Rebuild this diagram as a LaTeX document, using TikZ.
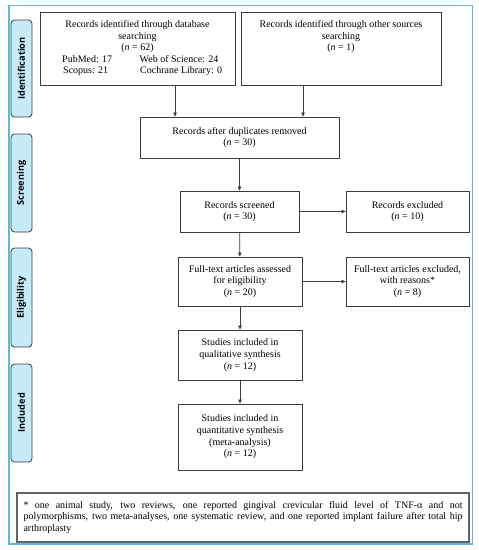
\documentclass[tikz,border=0pt]{standalone}
\usepackage{fontspec}
\setmainfont{Liberation Serif}
\newfontfamily\labfont{Open Sans}
\usetikzlibrary{arrows.meta}
\definecolor{frameblue}{HTML}{5AB8E6}
\definecolor{labfill}{HTML}{C6EBFB}
\definecolor{boxline}{HTML}{3C3C3C}
\tikzset{
  txt/.style={font=\fontsize{10}{11.7}\selectfont},
  fbox/.style={draw=boxline, line width=0.8pt, fill=white, inner sep=0pt, align=center, txt},
  sidelab/.style={draw=boxline, line width=0.8pt, fill=labfill, rounded corners=3.5pt},
  labtext/.style={rotate=90, font=\labfont\bfseries\fontsize{9.2}{10}\selectfont},
  arr/.style={draw=boxline, line width=0.7pt, -{Triangle[length=4pt,width=3.5pt]}},
}
\begin{document}
\begin{tikzpicture}[x=1pt,y=-1pt]
\useasboundingbox (0,0) rectangle (479,550);
\fill[white] (0,0) rectangle (479,550);
\draw[frameblue, line width=1.8pt] (9,5.5) rectangle (472.5,544);
% side labels
\draw[sidelab] (11,20) rectangle (32,117);
\node[labtext] (lid) at (21.5,68.5) {Identification};
\draw[sidelab] (11,134) rectangle (32,232);
\node[labtext] (lsc) at (21.5,183) {Screening};
\draw[sidelab] (11,248) rectangle (32,347);
\node[labtext] (lel) at (21.5,297.5) {Eligibility};
\draw[sidelab] (11,364) rectangle (32,462);
\node[labtext] (lin) at (21.5,413) {Included};
% boxes
\node[fbox, minimum width=195pt, minimum height=73pt, anchor=north west] (db) at (40,12) {};
\node[txt, align=center, anchor=north] (dbt) at (137.5,17)
  {Records identified through database\\searching\\(\textit{n} = 62)};
\node[txt, anchor=west, inner sep=0pt] (pm) at (62,59.5) {PubMed: 17};
\node[txt, anchor=west, inner sep=0pt] (sc) at (63,71) {Scopus: 21};
\node[txt, anchor=west, inner sep=0pt] (ws) at (139.5,59.5) {Web of Science: 24};
\node[txt, anchor=west, inner sep=0pt] (cl) at (140,71) {Cochrane Library: 0};
\node[fbox, minimum width=200pt, minimum height=73pt, anchor=north west] (ot) at (241,12) {};
\node[txt, align=center, anchor=north] (ott) at (341,17)
  {Records identified through other sources\\searching\\(\textit{n} = 1)};
\node[fbox, minimum width=199pt, minimum height=41pt] (dup) at (239.5,137.5)
  {Records after duplicates removed\\(\textit{n} = 30)};
\node[fbox, minimum width=119pt, minimum height=41pt] (scr) at (239.5,211.5)
  {Records screened\\(\textit{n} = 30)};
\node[fbox, minimum width=123pt, minimum height=41pt] (exc) at (407.5,211.5)
  {Records excluded\\(\textit{n} = 10)};
\node[fbox, minimum width=124pt, minimum height=49pt] (ft) at (240,281.5)
  {Full-text articles assessed\\for eligibility\\(\textit{n} = 20)};
\node[fbox, minimum width=123pt, minimum height=49pt] (fte) at (407.5,281.5)
  {Full-text articles excluded,\\with reasons*\\(\textit{n} = 8)};
\node[fbox, minimum width=124pt, minimum height=50pt] (qual) at (240,355)
  {Studies included in\\qualitative synthesis\\(\textit{n} = 12)};
\node[fbox, minimum width=124pt, minimum height=66pt] (quan) at (240,437)
  {Studies included in\\quantitative synthesis\\(meta-analysis)\\(\textit{n} = 12)};
\node[draw=boxline!80, line width=1.3pt, minimum width=452pt, minimum height=49pt, text width=439pt,
  align=justify, inner sep=0pt, txt] (fn) at (243,517.5)
  {* one animal study, two reviews, one reported gingival crevicular fluid level of TNF-α and not\linebreak polymorphisms, two meta-analyses, one systematic review, and one reported implant failure after total hip\linebreak arthroplasty};
% arrows
\draw[arr] (db.south -| 175,0) -- (dup.north -| 175,0);
\draw[arr] (ot.south -| 303,0) -- (dup.north -| 303,0);
\draw[arr] (dup) -- (scr);
\draw[arr] (scr) -- (exc);
\draw[arr] (scr) -- (ft);
\draw[arr] (ft) -- (fte);
\draw[arr] (ft) -- (qual);
\draw[arr] (qual) -- (quan);
\end{tikzpicture}
\end{document}
